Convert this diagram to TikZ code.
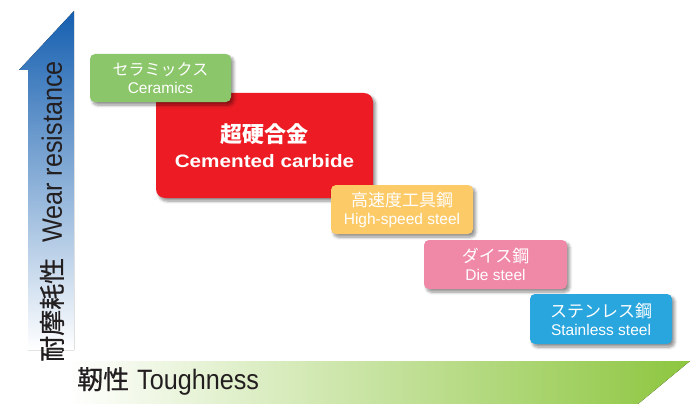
\documentclass[tikz,border=0pt]{standalone}
\usepackage{fontspec}
\setmainfont{Liberation Sans}
\newfontfamily\jp{Noto Sans CJK JP}
\newfontfamily\jpax[FakeBold=0.8]{Noto Sans CJK JP}
\newfontfamily\cond[FakeStretch=0.9]{Liberation Sans}
\newfontfamily\wideb[FakeStretch=1.15]{Liberation Sans}
\usetikzlibrary{shadows.blur}
\definecolor{txt}{HTML}{231F20}
\definecolor{arrowblue}{HTML}{155FB0}
\definecolor{bandgreen}{HTML}{8DC63F}
\definecolor{cerg}{HTML}{8BC66A}
\definecolor{carbred}{HTML}{ED1C24}
\definecolor{hssy}{HTML}{FDCA68}
\definecolor{diep}{HTML}{F088A8}
\definecolor{stainb}{HTML}{29A6DE}
\begin{document}
\begin{tikzpicture}[x=1pt,y=-1pt,
  matbox/.style={rounded corners=5pt, inner sep=0pt, text=white, align=center,
    font=\fontsize{15.5}{18}\selectfont,
    blur shadow={shadow xshift=2.5pt, shadow yshift=-3pt, shadow blur radius=3pt, shadow blur steps=6, shadow opacity=45}}]
\useasboundingbox (0,0) rectangle (691,404);
% axes
\fill[top color=arrowblue, bottom color=white] (74,11) -- (74,350) -- (28,350) -- (28,70) -- (19,70) -- cycle;
\fill[left color=white, right color=bandgreen] (68,361) -- (690,361) -- (638,404) -- (68,404) -- cycle;
\node[rotate=90, anchor=west, text=txt, inner sep=0pt] (wear) at (52,362)
  {{\jpax\fontsize{26}{26}\selectfont 耐摩耗性}\hspace{15pt}{\cond\fontsize{28}{28}\selectfont Wear resistance}};
\node[anchor=base west, text=txt, inner sep=0pt] (tough) at (77,389)
  {{\jpax\fontsize{26}{26}\selectfont 靭性}\hspace{8pt}{\cond\fontsize{28}{28}\selectfont Toughness}};
% boxes
\node[matbox, rounded corners=9pt, fill=carbred, minimum width=217pt, minimum height=105pt,
  font=\fontsize{18}{25}\selectfont] (carb) at (264.5,145.5)
  {{\jp\bfseries\fontsize{22}{25}\selectfont 超硬合金}\\{\wideb\bfseries Cemented carbide}};
\node[matbox, fill=cerg, minimum width=141pt, minimum height=48pt] (cer) at (160.5,78)
  {{\jp\fontsize{16}{18}\selectfont セラミックス}\\Ceramics};
\node[matbox, fill=hssy, minimum width=142pt, minimum height=49pt] (hss) at (402,209.5)
  {{\jp\fontsize{17}{18}\selectfont 高速度工具鋼}\\High-speed steel};
\node[matbox, fill=diep, minimum width=143pt, minimum height=49pt] (die) at (495.5,264.5)
  {{\jp\fontsize{17}{18}\selectfont ダイス鋼}\\Die steel};
\node[matbox, fill=stainb, minimum width=142pt, minimum height=50pt] (sus) at (601,319)
  {{\jp\fontsize{17}{18}\selectfont ステンレス鋼}\\Stainless steel};
\end{tikzpicture}
\end{document}
